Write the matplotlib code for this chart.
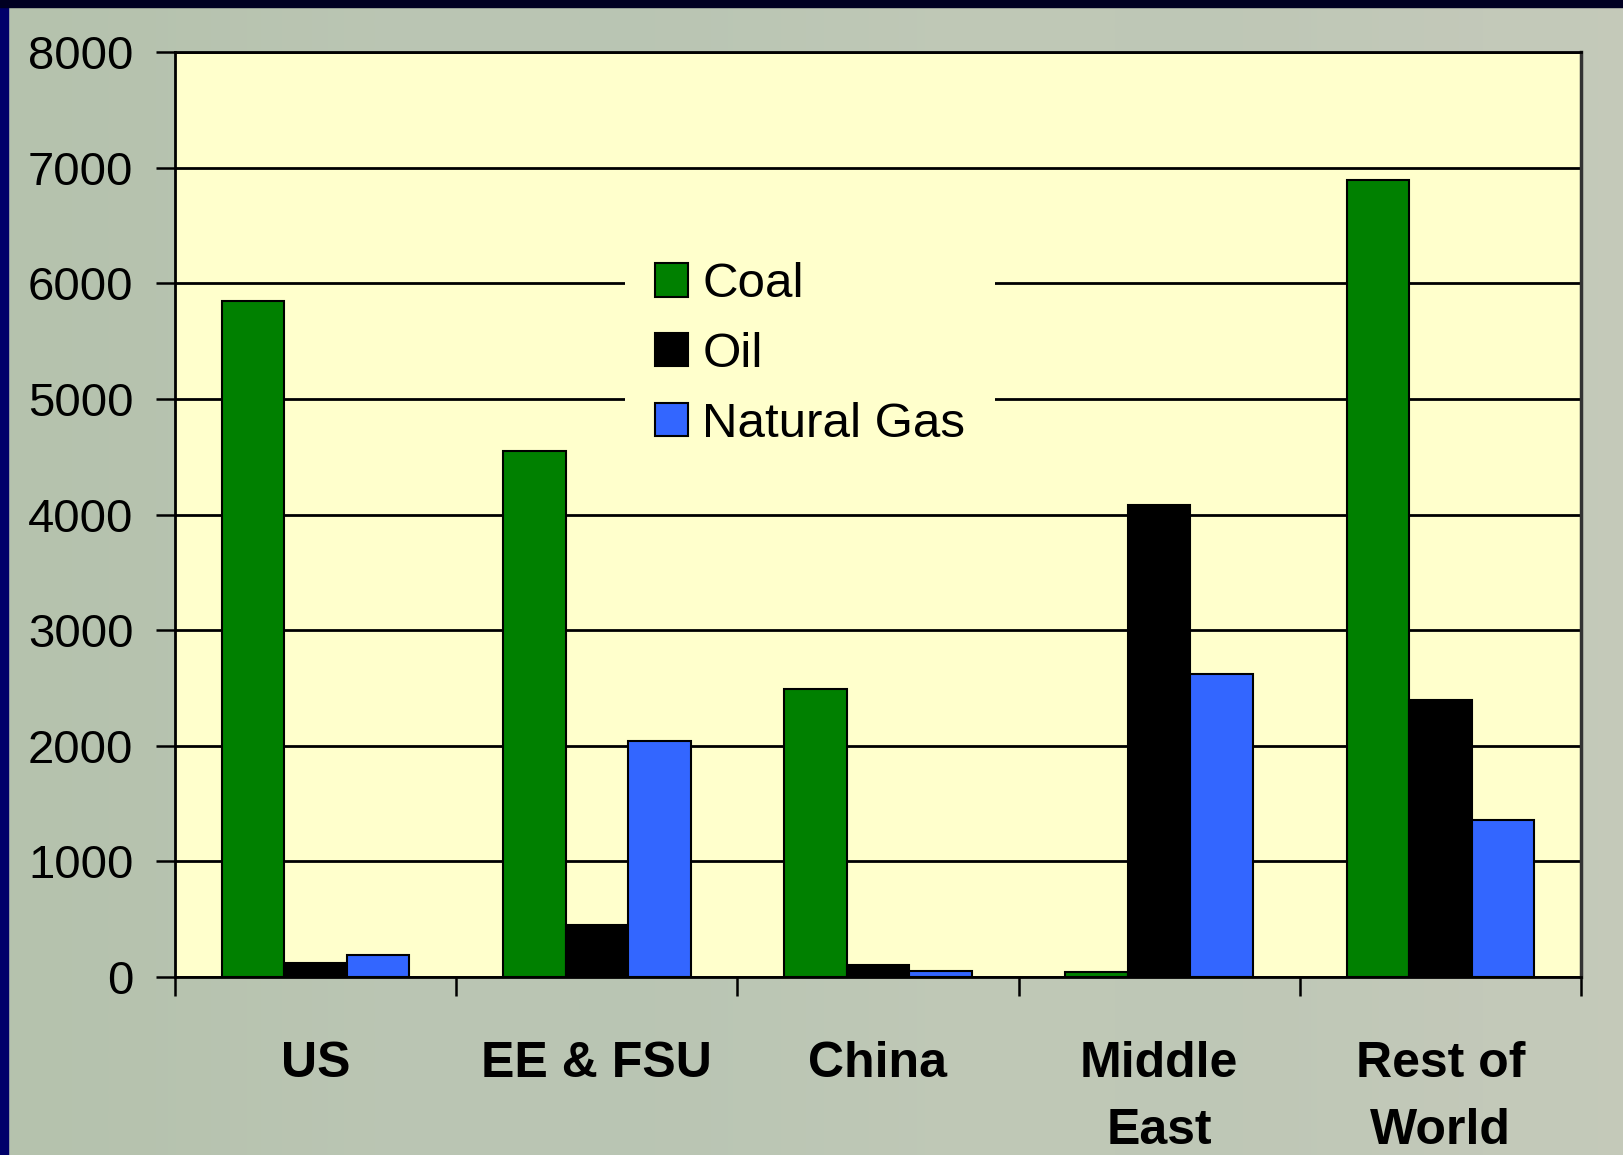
import matplotlib.pyplot as plt
import numpy as np

# Regional fossil fuel figures by fuel type
regions = ['US', 'EE & FSU', 'China', 'Middle\nEast', 'Rest of\nWorld']
coal = [5850, 4550, 2490, 40, 6890]
oil = [120, 450, 100, 4080, 2400]
natural_gas = [190, 2040, 55, 2620, 1360]

plt.rcParams['font.family'] = ['Liberation Sans', 'DejaVu Sans']

fig = plt.figure(figsize=(16.24, 11.55), dpi=100)
fig.patch.set_facecolor('#bcc5b3')

# slide background: grey-green wash with navy edges on the top and left
bg = fig.add_axes([0, 0, 1, 1])
wash = np.array([[[0.71, 0.76, 0.68], [0.74, 0.78, 0.71], [0.72, 0.77, 0.70],
                  [0.76, 0.79, 0.72], [0.74, 0.78, 0.71], [0.77, 0.79, 0.73]]])
bg.imshow(wash, aspect='auto', extent=[0, 1, 0, 1], interpolation='bicubic')
bg.add_patch(plt.Rectangle((0, 0), 8 / 1624, 1, color='#00006a'))
bg.add_patch(plt.Rectangle((0, 1 - 7 / 1155), 1, 7 / 1155, color='#000022'))
bg.set_xlim(0, 1)
bg.set_ylim(0, 1)
bg.set_axis_off()

ax = fig.add_axes([175 / 1624, 1 - 977 / 1155, (1581 - 175) / 1624, (977 - 52) / 1155])
ax.set_facecolor('#ffffcc')

x = np.arange(len(regions))
w = 1 / 4.5
ax.bar(x - w, coal, w, color='#008000', edgecolor='black', linewidth=1.5, label='Coal', zorder=3)
ax.bar(x, oil, w, color='#000000', edgecolor='black', linewidth=1.5, label='Oil', zorder=3)
ax.bar(x + w, natural_gas, w, color='#3366ff', edgecolor='black', linewidth=1.5,
       label='Natural Gas', zorder=3)

ax.set_xlim(-0.5, len(regions) - 0.5)
ax.set_ylim(0, 8000)
ax.set_yticks(np.arange(0, 8001, 1000))
ax.yaxis.grid(True, color='black', linewidth=2)
ax.set_axisbelow(True)

# boundary ticks between groups, labels centred under each group
ax.set_xticks(np.arange(len(regions) + 1) - 0.5)
ax.set_xticklabels([])
ax.set_xticks(x, minor=True)
ax.set_xticklabels(regions, minor=True, fontsize=36, fontweight='bold', linespacing=1.6)
ax.tick_params(axis='x', which='major', length=14, width=1.8, direction='out')
ax.tick_params(axis='x', which='minor', length=0, pad=46)
ax.tick_params(axis='y', length=14, width=1.8, direction='out', labelsize=34, pad=16)

for side in ['left', 'bottom', 'top']:
    ax.spines[side].set_linewidth(2)
    ax.spines[side].set_color('black')
ax.spines['right'].set_linewidth(2.5)
ax.spines['right'].set_color('#333333')

leg = ax.legend(loc='center', bbox_to_anchor=(0.4516, 0.673), fontsize=35.5,
                frameon=True, facecolor='#ffffcc', edgecolor='none', framealpha=1,
                fancybox=False, handlelength=0.67, handleheight=0.67,
                handletextpad=0.3, labelspacing=0.5, borderpad=0.6)
leg.set_zorder(4)

fig.savefig('out.png', dpi=100)
